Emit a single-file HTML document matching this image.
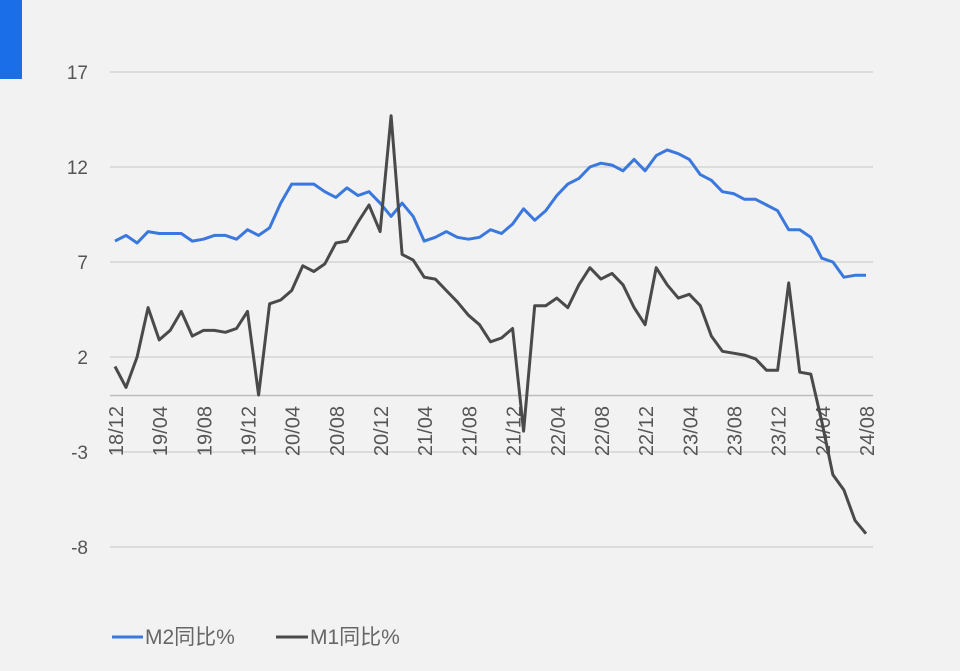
<!DOCTYPE html>
<html><head><meta charset="utf-8">
<style>
html,body{margin:0;padding:0;background:#f2f2f2;}
body{width:960px;height:671px;overflow:hidden;position:relative;font-family:"Liberation Sans","Noto Sans CJK SC",sans-serif;}
#bar{position:absolute;left:0;top:0;width:22px;height:79px;background:#1a6fe8;}
</style></head>
<body>
<div id="bar"></div>
<svg id="c" width="960" height="671" style="position:absolute;left:0;top:0" font-family="Liberation Sans, Noto Sans CJK SC, sans-serif"></svg>
<script>
var m2=[8.1,8.4,8.0,8.6,8.5,8.5,8.5,8.1,8.2,8.4,8.4,8.2,8.7,8.4,8.8,10.1,11.1,11.1,11.1,10.7,10.4,10.9,10.5,10.7,10.1,9.4,10.1,9.4,8.1,8.3,8.6,8.3,8.2,8.3,8.7,8.5,9.0,9.8,9.2,9.7,10.5,11.1,11.4,12.0,12.2,12.1,11.8,12.4,11.8,12.6,12.9,12.7,12.4,11.6,11.3,10.7,10.6,10.3,10.3,10.0,9.7,8.7,8.7,8.3,7.2,7.0,6.2,6.3,6.3];
var m1=[1.5,0.4,2.0,4.6,2.9,3.4,4.4,3.1,3.4,3.4,3.3,3.5,4.4,0.0,4.8,5.0,5.5,6.8,6.5,6.9,8.0,8.1,9.1,10.0,8.6,14.7,7.4,7.1,6.2,6.1,5.5,4.9,4.2,3.7,2.8,3.0,3.5,-1.9,4.7,4.7,5.1,4.6,5.8,6.7,6.1,6.4,5.8,4.6,3.7,6.7,5.8,5.1,5.3,4.7,3.1,2.3,2.2,2.1,1.9,1.3,1.3,5.9,1.2,1.1,-1.4,-4.2,-5.0,-6.6,-7.3];
function X(i){return 115+i*(866-115)/68;}
function Y(v){return 395-v*19;}
var s='';
[17,12,7,2,-3,-8].forEach(function(v){
 s+='<line x1="110" x2="873" y1="'+Y(v)+'" y2="'+Y(v)+'" stroke="#d0d0d0" stroke-width="1.2"/>';
 s+='<text x="88" y="'+(Y(v)+7)+'" text-anchor="end" font-size="19" fill="#555">'+v+'</text>';
});
s+='<line x1="110" x2="873" y1="395.5" y2="395.5" stroke="#bdbdbd" stroke-width="1.5"/>';
var labs=['18/12','19/04','19/08','19/12','20/04','20/08','20/12','21/04','21/08','21/12','22/04','22/08','22/12','23/04','23/08','23/12','24/04','24/08'];
labs.forEach(function(l,k){
 var x=X(k*4)+8;
 s+='<text transform="translate('+x+',406) rotate(-90)" text-anchor="end" font-size="20" fill="#555">'+l+'</text>';
});
function pl(d,c){return '<polyline fill="none" stroke="'+c+'" stroke-width="3" stroke-linejoin="round" points="'+d.map(function(v,i){return X(i).toFixed(1)+','+Y(v).toFixed(1)}).join(' ')+'"/>';}
s+=pl(m2,'#3b78de');
s+=pl(m1,'#4a4a4a');
s+='<line x1="112" x2="143" y1="637" y2="637" stroke="#3b78de" stroke-width="3"/>';
s+='<text x="145" y="644" font-size="21" fill="#666">M2同比%</text>';
s+='<line x1="276" x2="308" y1="637" y2="637" stroke="#4a4a4a" stroke-width="3"/>';
s+='<text x="310" y="644" font-size="21" fill="#666">M1同比%</text>';
document.getElementById('c').innerHTML=s;
</script>
</body></html>
